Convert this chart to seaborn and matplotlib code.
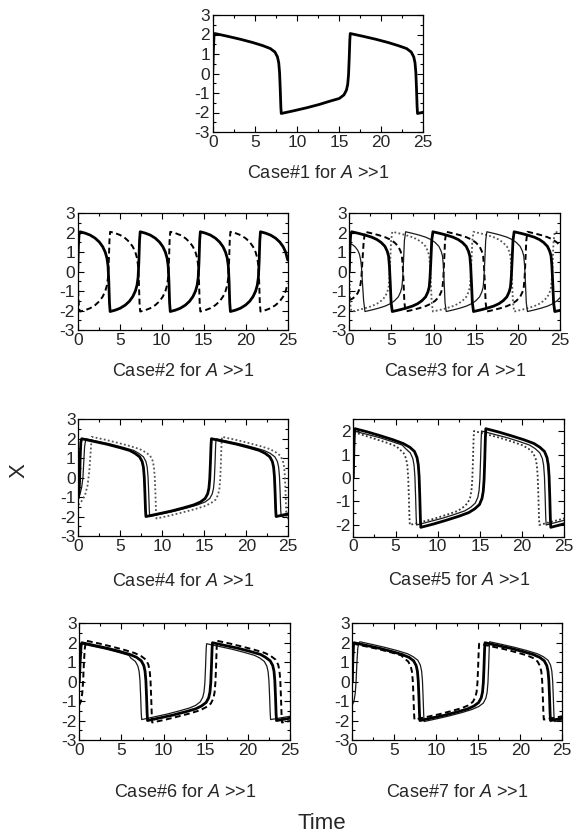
import matplotlib
matplotlib.use("Agg")
import matplotlib.pyplot as plt
from matplotlib.ticker import MultipleLocator
import seaborn as sns

# ---------------- data ----------------
# Case 1 (thick)
c1_t = [0, 0.08, 0.15,
        0.25, 1.75, 3.25, 4.75, 5.95, 6.85, 7.4, 7.7, 7.85, 7.95, 8.03, 8.1, 8.15,
        9.65, 11.15, 12.65, 13.85, 15.05, 15.6, 15.9, 16.05, 16.15, 16.23, 16.3, 16.35,
        17.85, 19.35, 20.85, 22.05, 23.05, 23.6, 23.9, 24.05, 24.15, 24.23, 24.3, 24.35,
        25]
c1_thick = [0, 1.2, 1.9,
            2.05, 1.91, 1.76, 1.59, 1.43, 1.28, 1.1, 0.85, 0.55, 0.05, -0.8, -1.7, -2.05,
            -1.91, -1.76, -1.59, -1.43, -1.28, -1.1, -0.85, -0.55, -0.05, 0.8, 1.7, 2.05,
            1.91, 1.76, 1.59, 1.43, 1.28, 1.1, 0.85, 0.55, 0.05, -0.8, -1.7, -2.05,
            -1.99]

# Case 2 (thick solid and dashed)
c2_t = [0, 0.08, 0.16,
        0.28, 0.88, 1.48, 2.08, 2.58, 2.98, 3.28, 3.48, 3.61, 3.70, 3.78, 3.86,
        4.46, 5.06, 5.66, 6.16, 6.56, 6.86, 7.06, 7.19, 7.28, 7.36, 7.44,
        8.04, 8.64, 9.24, 9.74, 10.14, 10.44, 10.64, 10.77, 10.86, 10.94, 11.02,
        11.62, 12.22, 12.82, 13.32, 13.72, 14.02, 14.22, 14.35, 14.44, 14.52, 14.60,
        15.20, 15.80, 16.40, 16.90, 17.30, 17.60, 17.80, 17.93, 18.02, 18.10, 18.18,
        18.78, 19.38, 19.98, 20.48, 20.88, 21.18, 21.38, 21.51, 21.60, 21.68, 21.76,
        22.36, 22.96, 23.56, 24.06, 24.46, 24.76, 25.0]
c2_solid = [0, 1.3, 1.9,
            2.05, 1.98, 1.88, 1.72, 1.52, 1.28, 1.0, 0.7, 0.3, -0.5, -1.6, -2.05,
            -1.98, -1.88, -1.72, -1.52, -1.28, -1.0, -0.7, -0.3, 0.5, 1.6, 2.05,
            1.98, 1.88, 1.72, 1.52, 1.28, 1.0, 0.7, 0.3, -0.5, -1.6, -2.05,
            -1.98, -1.88, -1.72, -1.52, -1.28, -1.0, -0.7, -0.3, 0.5, 1.6, 2.05,
            1.98, 1.88, 1.72, 1.52, 1.28, 1.0, 0.7, 0.3, -0.5, -1.6, -2.05,
            -1.98, -1.88, -1.72, -1.52, -1.28, -1.0, -0.7, -0.3, 0.5, 1.6, 2.05,
            1.98, 1.88, 1.72, 1.52, 1.28, 1.0, 0.6]
c2_dashed = [0, -1.3, -1.9,
             -2.05, -1.98, -1.88, -1.72, -1.52, -1.28, -1.0, -0.7, -0.3, 0.5, 1.6, 2.05,
             1.98, 1.88, 1.72, 1.52, 1.28, 1.0, 0.7, 0.3, -0.5, -1.6, -2.05,
             -1.98, -1.88, -1.72, -1.52, -1.28, -1.0, -0.7, -0.3, 0.5, 1.6, 2.05,
             1.98, 1.88, 1.72, 1.52, 1.28, 1.0, 0.7, 0.3, -0.5, -1.6, -2.05,
             -1.98, -1.88, -1.72, -1.52, -1.28, -1.0, -0.7, -0.3, 0.5, 1.6, 2.05,
             1.98, 1.88, 1.72, 1.52, 1.28, 1.0, 0.7, 0.3, -0.5, -1.6, -2.05,
             -1.98, -1.88, -1.72, -1.52, -1.28, -1.0, -0.6]

# Case 3 (thick, dotted, thin, dashed)
c3_t = [0, 0.08, 0.16,
        0.28, 1.08, 1.88, 2.68, 3.28, 3.78, 4.23, 4.50, 4.66, 4.76, 4.86, 4.96, 5.10,
        5.90, 6.70, 7.50, 8.10, 8.60, 9.05, 9.32, 9.48, 9.58, 9.68, 9.78, 9.92,
        10.72, 11.52, 12.32, 12.92, 13.42, 13.87, 14.14, 14.30, 14.40, 14.50, 14.60, 14.74,
        15.54, 16.34, 17.14, 17.74, 18.24, 18.69, 18.96, 19.12, 19.22, 19.32, 19.42, 19.56,
        20.36, 21.16, 21.96, 22.56, 23.06, 23.51, 23.78, 23.94, 24.04, 24.14, 24.24, 24.38,
        25.0]
c3_thick = [0, 1.3, 1.9,
            2.05, 1.97, 1.88, 1.77, 1.65, 1.5, 1.3, 1.05, 0.8, 0.3, -0.6, -1.6, -2.05,
            -1.97, -1.88, -1.77, -1.65, -1.5, -1.3, -1.05, -0.8, -0.3, 0.6, 1.6, 2.05,
            1.97, 1.88, 1.77, 1.65, 1.5, 1.3, 1.05, 0.8, 0.3, -0.6, -1.6, -2.05,
            -1.97, -1.88, -1.77, -1.65, -1.5, -1.3, -1.05, -0.8, -0.3, 0.6, 1.6, 2.05,
            1.97, 1.88, 1.77, 1.65, 1.5, 1.3, 1.05, 0.8, 0.3, -0.6, -1.6, -2.05,
            -1.99]
c3_dotted = [0, -1.3, -1.9,
             -2.05, -1.97, -1.88, -1.77, -1.65, -1.5, -1.3, -1.05, -0.8, -0.3, 0.6, 1.6, 2.05,
             1.97, 1.88, 1.77, 1.65, 1.5, 1.3, 1.05, 0.8, 0.3, -0.6, -1.6, -2.05,
             -1.97, -1.88, -1.77, -1.65, -1.5, -1.3, -1.05, -0.8, -0.3, 0.6, 1.6, 2.05,
             1.97, 1.88, 1.77, 1.65, 1.5, 1.3, 1.05, 0.8, 0.3, -0.6, -1.6, -2.05,
             -1.97, -1.88, -1.77, -1.65, -1.5, -1.3, -1.05, -0.8, -0.3, 0.6, 1.6, 2.05,
             1.99]
c3b_t = [0, 0.4, 0.7, 1.0, 1.2, 1.35, 1.45, 1.55, 1.7, 1.86,
         2.66, 3.46, 4.26, 4.86, 5.36, 5.81, 6.08, 6.24, 6.34, 6.44, 6.54, 6.68,
         7.48, 8.28, 9.08, 9.68, 10.18, 10.63, 10.90, 11.06, 11.16, 11.26, 11.36, 11.50,
         12.30, 13.10, 13.90, 14.50, 15.00, 15.45, 15.72, 15.88, 15.98, 16.08, 16.18, 16.32,
         17.12, 17.92, 18.72, 19.32, 19.82, 20.27, 20.54, 20.70, 20.80, 20.90, 21.00, 21.14,
         21.94, 22.74, 23.54, 24.14, 24.64, 25.0]
c3_thin = [1.46, 1.38, 1.27, 1.1, 0.9, 0.6, 0.2, -0.5, -1.5, -2.05,
           -1.97, -1.88, -1.77, -1.65, -1.5, -1.3, -1.05, -0.8, -0.3, 0.6, 1.6, 2.05,
           1.97, 1.88, 1.77, 1.65, 1.5, 1.3, 1.05, 0.8, 0.3, -0.6, -1.6, -2.05,
           -1.97, -1.88, -1.77, -1.65, -1.5, -1.3, -1.05, -0.8, -0.3, 0.6, 1.6, 2.05,
           1.97, 1.88, 1.77, 1.65, 1.5, 1.3, 1.05, 0.8, 0.3, -0.6, -1.6, -2.05,
           -1.97, -1.88, -1.77, -1.65, -1.5, -1.34]
c3_dashed = [-1.46, -1.38, -1.27, -1.1, -0.9, -0.6, -0.2, 0.5, 1.5, 2.05,
             1.97, 1.88, 1.77, 1.65, 1.5, 1.3, 1.05, 0.8, 0.3, -0.6, -1.6, -2.05,
             -1.97, -1.88, -1.77, -1.65, -1.5, -1.3, -1.05, -0.8, -0.3, 0.6, 1.6, 2.05,
             1.97, 1.88, 1.77, 1.65, 1.5, 1.3, 1.05, 0.8, 0.3, -0.6, -1.6, -2.05,
             -1.97, -1.88, -1.77, -1.65, -1.5, -1.3, -1.05, -0.8, -0.3, 0.6, 1.6, 2.05,
             1.97, 1.88, 1.77, 1.65, 1.5, 1.34]

# Case 4 (thick, thin, dotted)
c4_thick_t = [0, 0.08, 0.15, 0.22, 0.3,
              0.4, 1.9, 3.4, 4.9, 6.1, 6.75, 7.3, 7.6, 7.75, 7.85, 7.93, 8.0, 8.05,
              9.55, 11.05, 12.55, 13.75, 14.55, 15.1, 15.4, 15.55, 15.65, 15.73, 15.8, 15.85,
              17.35, 18.85, 20.35, 21.55, 22.25, 22.8, 23.1, 23.25, 23.35, 23.43, 23.5, 23.55,
              25.0]
c4_thick = [-1.05, -0.8, -0.2, 1.0, 1.8,
            2.0, 1.86, 1.72, 1.55, 1.4, 1.25, 1.07, 0.83, 0.54, 0.05, -0.78, -1.66, -2.0,
            -1.86, -1.72, -1.55, -1.4, -1.25, -1.07, -0.83, -0.54, -0.05, 0.78, 1.66, 2.0,
            1.86, 1.72, 1.55, 1.4, 1.25, 1.07, 0.83, 0.54, 0.05, -0.78, -1.66, -2.0,
            -1.86]
c4_thin_t = [0, 0.2, 0.4, 0.55, 0.65, 0.75,
             0.9, 2.4, 3.9, 5.4, 6.6, 7.2, 7.75, 8.05, 8.2, 8.3, 8.38, 8.45, 8.5,
             10.0, 11.5, 13.0, 14.2, 15.1, 15.65, 15.95, 16.1, 16.2, 16.28, 16.35, 16.4,
             17.9, 19.4, 20.9, 22.1, 22.85, 23.4, 23.7, 23.85, 23.95, 24.03, 24.1, 24.15,
             25.0]
c4_thin = [-1.05, -0.85, -0.5, 0.0, 0.8, 1.6,
           2.0, 1.86, 1.72, 1.55, 1.4, 1.25, 1.07, 0.83, 0.54, 0.05, -0.78, -1.66, -2.0,
           -1.86, -1.72, -1.55, -1.4, -1.25, -1.07, -0.83, -0.54, -0.05, 0.78, 1.66, 2.0,
           1.86, 1.72, 1.55, 1.4, 1.25, 1.07, 0.83, 0.54, 0.05, -0.78, -1.66, -2.0,
           -1.92]
c4_dot_t = [0, 0.4, 0.8, 1.1, 1.3, 1.45,
            1.6, 3.1, 4.6, 6.1, 7.3, 8.0, 8.55, 8.85, 9.0, 9.1, 9.18, 9.25, 9.3,
            10.8, 12.3, 13.8, 15.0, 15.8, 16.35, 16.65, 16.8, 16.9, 16.98, 17.05, 17.1,
            18.6, 20.1, 21.6, 22.8, 23.5, 24.05, 24.35, 24.5, 24.6, 24.68, 24.75, 24.8,
            25.0]
c4_dot = [-1.4, -1.2, -0.9, -0.4, 0.3, 1.2,
          2.1, 1.96, 1.8, 1.63, 1.47, 1.31, 1.13, 0.87, 0.56, 0.05, -0.82, -1.74, -2.1,
          -1.96, -1.8, -1.63, -1.47, -1.31, -1.13, -0.87, -0.56, -0.05, 0.82, 1.74, 2.1,
          1.96, 1.8, 1.63, 1.47, 1.31, 1.13, 0.87, 0.56, 0.05, -0.82, -1.74, -2.1,
          -2.08]

# Case 5 (thick, thin, dotted)
c5_thick_t = [0, 0.07, 0.14,
              0.2, 1.7, 3.2, 4.7, 5.9, 6.7, 7.25, 7.55, 7.7, 7.8, 7.88, 7.95, 8.0,
              9.5, 11.0, 12.5, 13.7, 14.4, 14.95, 15.25, 15.4, 15.5, 15.58, 15.65, 15.7,
              17.2, 18.7, 20.2, 21.4, 22.1, 22.65, 22.95, 23.1, 23.2, 23.28, 23.35, 23.4,
              25.0]
c5_thick = [0, 1.3, 1.95,
            2.1, 1.96, 1.8, 1.63, 1.47, 1.31, 1.13, 0.87, 0.56, 0.05, -0.82, -1.74, -2.1,
            -1.96, -1.8, -1.63, -1.47, -1.31, -1.13, -0.87, -0.56, -0.05, 0.82, 1.74, 2.1,
            1.96, 1.8, 1.63, 1.47, 1.31, 1.13, 0.87, 0.56, 0.05, -0.82, -1.74, -2.1,
            -1.95]
c5_thin_t = [0, 0.04, 0.07,
             0.1, 1.6, 3.1, 4.6, 5.8, 6.2, 6.75, 7.05, 7.2, 7.3, 7.38, 7.45, 7.5,
             9.0, 10.5, 12.0, 13.2, 13.9, 14.45, 14.75, 14.9, 15.0, 15.08, 15.15, 15.2,
             16.7, 18.2, 19.7, 20.9, 21.55, 22.1, 22.4, 22.55, 22.65, 22.73, 22.8, 22.85,
             25.0]
c5_thin = [0, 1.3, 1.85,
           2.0, 1.86, 1.72, 1.55, 1.4, 1.25, 1.07, 0.83, 0.54, 0.05, -0.78, -1.66, -2.0,
           -1.86, -1.72, -1.55, -1.4, -1.25, -1.07, -0.83, -0.54, -0.05, 0.78, 1.66, 2.0,
           1.86, 1.72, 1.55, 1.4, 1.25, 1.07, 0.83, 0.54, 0.05, -0.78, -1.66, -2.0,
           -1.8]
c5_dot_t = [0, 0.04, 0.07,
            0.1, 1.4, 2.7, 4.0, 5.1, 5.4, 5.95, 6.25, 6.4, 6.5, 6.58, 6.65, 6.7,
            8.2, 9.7, 11.2, 12.4, 13.0, 13.55, 13.85, 14.0, 14.1, 14.18, 14.25, 14.3,
            15.8, 17.3, 18.8, 20.0, 20.75, 21.3, 21.6, 21.75, 21.85, 21.93, 22.0, 22.05,
            25.0]
c5_dot = [0, 1.3, 1.8,
          1.95, 1.8, 1.65, 1.5, 1.35, 1.25, 1.07, 0.83, 0.54, 0.05, -0.78, -1.66, -2.0,
          -1.86, -1.72, -1.55, -1.4, -1.25, -1.07, -0.83, -0.54, -0.05, 0.78, 1.66, 2.0,
          1.86, 1.72, 1.55, 1.4, 1.25, 1.07, 0.83, 0.54, 0.05, -0.78, -1.66, -2.0,
          -1.72]

# Case 6 (thick, thin, dashed)
c6_thick_t = [0, 0.1, 0.2,
              0.3, 1.8, 3.3, 4.8, 6.0, 6.8, 7.35, 7.65, 7.8, 7.9, 7.98, 8.05, 8.1,
              9.6, 11.1, 12.6, 13.8, 14.5, 15.05, 15.35, 15.5, 15.6, 15.68, 15.75, 15.8,
              17.3, 18.8, 20.3, 21.5, 22.1, 22.65, 22.95, 23.1, 23.2, 23.28, 23.35, 23.4,
              25.0]
c6_thick = [0, 1.0, 1.8,
            2.0, 1.86, 1.72, 1.55, 1.4, 1.25, 1.07, 0.83, 0.54, 0.05, -0.78, -1.66, -2.0,
            -1.86, -1.72, -1.55, -1.4, -1.25, -1.07, -0.83, -0.54, -0.05, 0.78, 1.66, 2.0,
            1.86, 1.72, 1.55, 1.4, 1.25, 1.07, 0.83, 0.54, 0.05, -0.78, -1.66, -2.0,
            -1.88]
c6_thin_t = [0, 0.05, 0.12,
             0.2, 1.7, 3.2, 4.7, 5.9, 6.1, 6.65, 6.95, 7.1, 7.2, 7.28, 7.35, 7.4,
             8.9, 10.4, 11.9, 13.1, 13.8, 14.35, 14.65, 14.8, 14.9, 14.98, 15.05, 15.1,
             16.6, 18.1, 19.6, 20.8, 21.4, 21.95, 22.25, 22.4, 22.5, 22.58, 22.65, 22.7,
             25.0]
c6_thin = [0, 1.0, 1.8,
           1.95, 1.81, 1.67, 1.5, 1.35, 1.22, 1.04, 0.8, 0.52, 0.05, -0.76, -1.62, -1.95,
           -1.81, -1.67, -1.5, -1.35, -1.22, -1.04, -0.8, -0.52, -0.05, 0.76, 1.62, 1.95,
           1.81, 1.67, 1.5, 1.35, 1.22, 1.04, 0.8, 0.52, 0.05, -0.76, -1.62, -1.95,
           -1.78]
c6_dash_t = [0, 0.2, 0.35, 0.45, 0.55, 0.65, 0.75,
             0.87, 2.37, 3.87, 5.37, 6.57, 7.35, 7.9, 8.2, 8.35, 8.45, 8.53, 8.6, 8.65,
             10.15, 11.65, 13.15, 14.35, 15.05, 15.6, 15.9, 16.05, 16.15, 16.23, 16.3, 16.35,
             17.85, 19.35, 20.85, 22.05, 22.75, 23.3, 23.6, 23.75, 23.85, 23.93, 24.0, 24.05,
             25.0]
c6_dash = [-1.2, -1.0, -0.6, 0.0, 1.0, 1.7, 2.0,
           2.1, 1.96, 1.8, 1.63, 1.47, 1.31, 1.13, 0.87, 0.56, 0.05, -0.82, -1.74, -2.1,
           -1.96, -1.8, -1.63, -1.47, -1.31, -1.13, -0.87, -0.56, -0.05, 0.82, 1.74, 2.1,
           1.96, 1.8, 1.63, 1.47, 1.31, 1.13, 0.87, 0.56, 0.05, -0.82, -1.74, -2.1,
           -2.02]

# Case 7 (thin, thick, dashed)
c7_thin_t = [0, 0.2, 0.35, 0.45, 0.55, 0.65, 0.75,
             0.9, 2.4, 3.9, 5.4, 6.6, 7.25, 7.8, 8.1, 8.25, 8.35, 8.43, 8.5, 8.55,
             10.05, 11.55, 13.05, 14.25, 15.05, 15.6, 15.9, 16.05, 16.15, 16.23, 16.3, 16.35,
             17.85, 19.35, 20.85, 22.05, 22.75, 23.3, 23.6, 23.75, 23.85, 23.93, 24.0, 24.05,
             25.0]
c7_thin = [-1.2, -1.0, -0.6, 0.0, 1.0, 1.7, 1.95,
           2.05, 1.91, 1.76, 1.59, 1.43, 1.28, 1.1, 0.85, 0.55, 0.05, -0.8, -1.7, -2.05,
           -1.91, -1.76, -1.59, -1.43, -1.28, -1.1, -0.85, -0.55, -0.05, 0.8, 1.7, 2.05,
           1.91, 1.76, 1.59, 1.43, 1.28, 1.1, 0.85, 0.55, 0.05, -0.8, -1.7, -2.05,
           -1.97]
c7_thick_t = [0, 0.07, 0.14,
              0.2, 1.7, 3.2, 4.7, 5.9, 6.75, 7.3, 7.6, 7.75, 7.85, 7.93, 8.0, 8.05,
              9.55, 11.05, 12.55, 13.75, 14.5, 15.05, 15.35, 15.5, 15.6, 15.68, 15.75, 15.8,
              17.3, 18.8, 20.3, 21.5, 22.3, 22.85, 23.15, 23.3, 23.4, 23.48, 23.55, 23.6,
              25.0]
c7_thick = [0, 1.2, 1.85,
            2.0, 1.86, 1.72, 1.55, 1.4, 1.25, 1.07, 0.83, 0.54, 0.05, -0.78, -1.66, -2.0,
            -1.86, -1.72, -1.55, -1.4, -1.25, -1.07, -0.83, -0.54, -0.05, 0.78, 1.66, 2.0,
            1.86, 1.72, 1.55, 1.4, 1.25, 1.07, 0.83, 0.54, 0.05, -0.78, -1.66, -2.0,
            -1.88]
c7_dash_t = [0, 0.05, 0.1,
             0.15, 1.65, 3.15, 4.65, 5.85, 6.1, 6.65, 6.95, 7.1, 7.2, 7.28, 7.35, 7.4,
             8.9, 10.4, 11.9, 13.1, 13.8, 14.35, 14.65, 14.8, 14.9, 14.98, 15.05, 15.1,
             16.6, 18.1, 19.6, 20.8, 21.5, 22.05, 22.35, 22.5, 22.6, 22.68, 22.75, 22.8,
             25.0]
c7_dash = [0, 1.2, 1.85,
           1.95, 1.81, 1.67, 1.5, 1.35, 1.22, 1.04, 0.8, 0.52, 0.05, -0.76, -1.62, -1.95,
           -1.81, -1.67, -1.5, -1.35, -1.22, -1.04, -0.8, -0.52, -0.05, 0.76, 1.62, 1.95,
           1.81, 1.67, 1.5, 1.35, 1.22, 1.04, 0.8, 0.52, 0.05, -0.76, -1.62, -1.95,
           -1.78]

case_labels = ["Case#1 for $\\mathit{A}$ >>1", "Case#2 for $\\mathit{A}$ >>1",
               "Case#3 for $\\mathit{A}$ >>1", "Case#4 for $\\mathit{A}$ >>1",
               "Case#5 for $\\mathit{A}$ >>1", "Case#6 for $\\mathit{A}$ >>1",
               "Case#7 for $\\mathit{A}$ >>1"]
x_ticks = [0, 5, 10, 15, 20, 25]

# ---------------- style ----------------
sns.set_theme(style="ticks")
plt.rcParams["font.family"] = ["Liberation Sans", "DejaVu Sans"]
plt.rcParams["mathtext.fontset"] = "custom"
plt.rcParams["mathtext.rm"] = "Liberation Sans"
plt.rcParams["mathtext.it"] = "Liberation Sans:italic"
plt.rcParams["axes.unicode_minus"] = False

W, H = 573, 836
fig = plt.figure(figsize=(W / 100, H / 100), dpi=100)
fig.patch.set_facecolor("white")


def add_ax(l, t, r, b):
    return fig.add_axes([l / W, 1 - b / H, (r - l) / W, (b - t) / H])


THICK = dict(color="black", linewidth=2.0)
THIN = dict(color="#1a1a1a", linewidth=0.9)
DASH = dict(color="black", linewidth=1.4, linestyle=(0, (3.0, 1.8)))
DOT = dict(color="#555555", linewidth=1.3, linestyle=(0, (1.0, 1.3)))


def draw(ax, t, x, style):
    sns.lineplot(x=t, y=x, ax=ax, estimator=None, sort=False, **style)


def style_ax(ax, ylim=(-3, 3)):
    ax.set_xlim(0, 25)
    ax.set_ylim(*ylim)
    ax.set_xticks(x_ticks)
    ax.xaxis.set_minor_locator(MultipleLocator(2.5))
    ax.yaxis.set_major_locator(MultipleLocator(1))
    ax.yaxis.set_minor_locator(MultipleLocator(0.5))
    ax.tick_params(which="both", direction="in", top=True, right=True,
                   width=0.8, color="black")
    ax.tick_params(which="major", length=4, labelsize=12.5, pad=2)
    ax.tick_params(which="minor", length=2)
    for s in ax.spines.values():
        s.set_linewidth(0.9)
        s.set_color("black")
    ax.set_xlabel("")
    ax.set_ylabel("")
    ax.set_facecolor("white")


axes_px = [(212.7, 15, 423, 132),
           (77.7, 213.3, 287.7, 330),
           (349.3, 213.3, 560, 330),
           (78.3, 419.3, 288.3, 536),
           (353.3, 419.3, 564.3, 536.7),
           (79.3, 623.3, 290, 740),
           (352.3, 623.3, 562.3, 740)]
label_pos = [(318, 178), (182.7, 376), (454.7, 376), (183.3, 586),
             (458.8, 585), (184.7, 797), (457.3, 797)]

axs = [add_ax(*p) for p in axes_px]

# Case 1
draw(axs[0], c1_t, c1_thick, THICK)
# Case 2
draw(axs[1], c2_t, c2_dashed, DASH)
draw(axs[1], c2_t, c2_solid, THICK)
# Case 3
draw(axs[2], c3_t, c3_dotted, DOT)
draw(axs[2], c3b_t, c3_dashed, DASH)
draw(axs[2], c3b_t, c3_thin, THIN)
draw(axs[2], c3_t, c3_thick, THICK)
# Case 4
draw(axs[3], c4_dot_t, c4_dot, DOT)
draw(axs[3], c4_thin_t, c4_thin, THIN)
draw(axs[3], c4_thick_t, c4_thick, THICK)
# Case 5
draw(axs[4], c5_dot_t, c5_dot, dict(color="#333333", linewidth=1.3, linestyle=(0, (1.0, 1.3))))
draw(axs[4], c5_thin_t, c5_thin, THIN)
draw(axs[4], c5_thick_t, c5_thick, THICK)
# Case 6
draw(axs[5], c6_dash_t, c6_dash, DASH)
draw(axs[5], c6_thin_t, c6_thin, THIN)
draw(axs[5], c6_thick_t, c6_thick, THICK)
# Case 7
draw(axs[6], c7_dash_t, c7_dash, DASH)
draw(axs[6], c7_thin_t, c7_thin, THIN)
draw(axs[6], c7_thick_t, c7_thick, THICK)

for i, ax in enumerate(axs):
    style_ax(ax, ylim=(-2.5, 2.5) if i == 4 else (-3, 3))
    if i == 4:
        ax.set_yticks([-2, -1, 0, 1, 2])
    cx, by = label_pos[i]
    fig.text(cx / W, 1 - by / H, case_labels[i], ha="center", va="baseline",
             fontsize=13)

fig.text(322 / W, 1 - 829 / H, "Time", ha="center", va="baseline", fontsize=16)
fig.text(19 / W, 1 - 471 / H, "X", ha="center", va="center", rotation=90,
         fontsize=16)

fig.savefig("out.png", dpi=100, facecolor="white")
